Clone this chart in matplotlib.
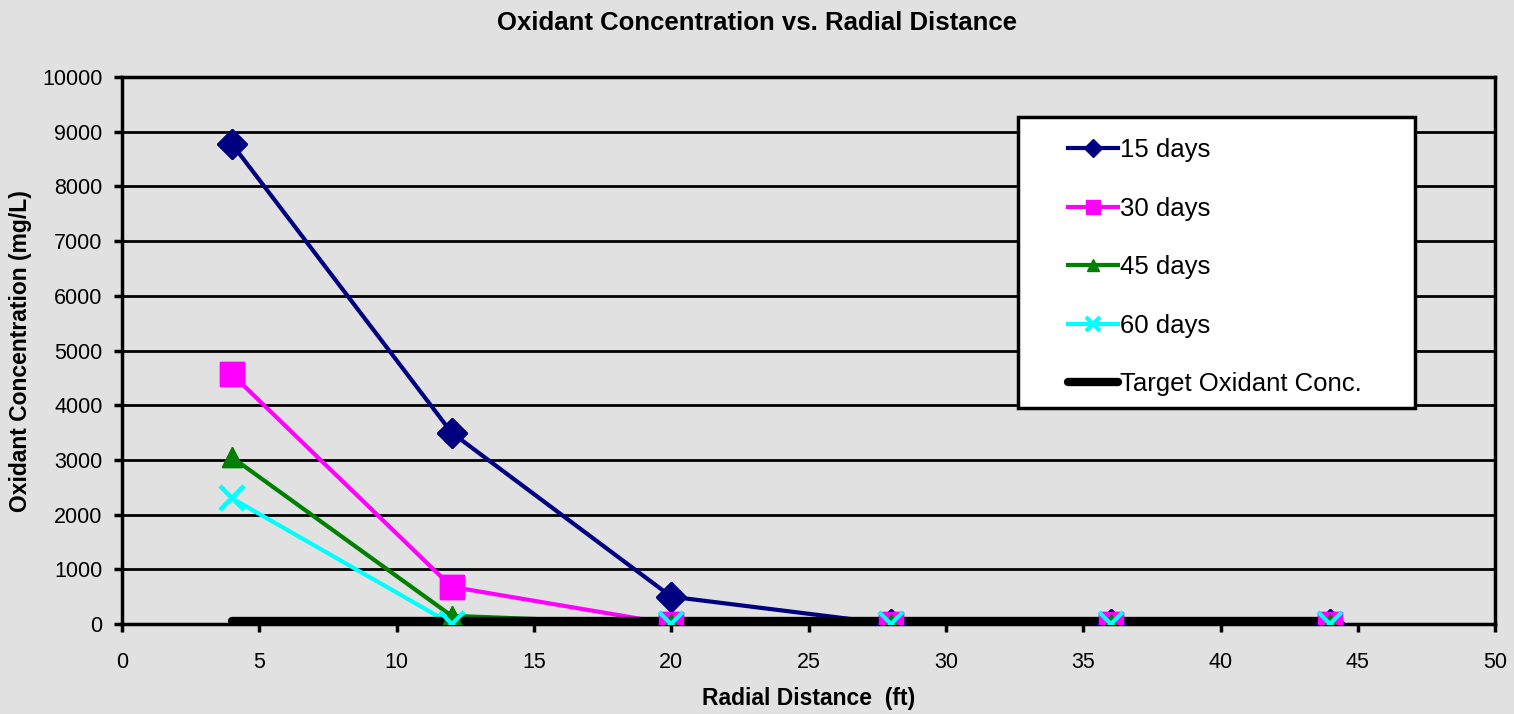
import matplotlib
matplotlib.use("Agg")
import matplotlib.pyplot as plt
from matplotlib.patches import Rectangle

plt.rcParams['font.family'] = ['Liberation Sans', 'DejaVu Sans']

radial_ft = [4, 12, 20, 28, 36, 44]
conc_15 = [8780, 3500, 500, 0, 0, 0]
conc_30 = [4570, 680, 0, 0, 0, 0]
conc_45 = [3050, 150, 0, 0, 0, 0]
conc_60 = [2300, 0, 0, 0, 0, 0]
target_x = [4, 44]
target_y = [50, 50]

series = [
    (conc_15, '15 days', '#000080', 'D', 15, 1),
    (conc_30, '30 days', '#ff00ff', 's', 17, 1),
    (conc_45, '45 days', '#008000', '^', 15, 1),
    (conc_60, '60 days', '#00ffff', 'x', 17, 3),
]

bg = '#e1e1e1'
fig = plt.figure(figsize=(15.14, 7.14), dpi=100, facecolor=bg)
ax = fig.add_axes([0.0806, 0.126, 0.907, 0.766], facecolor=bg)

for vals, lab, col, mk, ms, mew in series:
    ax.plot(radial_ft, vals, color=col, lw=3, marker=mk, ms=ms, mew=mew, label=lab, zorder=3)
ax.plot(target_x, target_y, color='black', lw=6, solid_capstyle='round', label='Target Oxidant Conc.', zorder=4)
# markers again on top of the target line
for vals, lab, col, mk, ms, mew in series:
    ax.plot(radial_ft, vals, ls='none', color=col, marker=mk, ms=ms, mew=mew, zorder=5)

ax.set_xlim(0, 50)
ax.set_ylim(0, 10000)
ax.set_xticks(range(0, 51, 5))
ax.set_yticks(range(0, 10001, 1000))
ax.yaxis.grid(True, color='black', lw=2)
ax.set_axisbelow(True)
for s in ax.spines.values():
    s.set_linewidth(2.5)
ax.tick_params(direction='out', length=6, width=2.5, labelsize=15.5, pad=8)
ax.tick_params(axis='x', pad=14)

ax.set_xlabel('Radial Distance  (ft)', fontsize=16.5, fontweight='bold', labelpad=10)
ax.set_ylabel('Oxidant Concentration (mg/L)', fontsize=16.5, fontweight='bold', labelpad=7)
fig.suptitle('Oxidant Concentration vs. Radial Distance', fontsize=18.5, fontweight='bold', y=0.985)

# legend box (white with black border), legend itself drawn without frame
ax.add_patch(Rectangle((1018 / 1514, 1 - 408 / 714), 397 / 1514, 291 / 714,
                       transform=fig.transFigure, facecolor='white',
                       edgecolor='black', lw=2.5, zorder=6, clip_on=False))
leg = ax.legend(loc='upper left', bbox_to_anchor=(0.689, 0.888), frameon=False,
                fontsize=18.5, markerscale=0.6, handlelength=1.95, handletextpad=0.05,
                labelspacing=1.34, borderpad=0, borderaxespad=0)
leg.set_zorder(7)

fig.savefig('out.png', dpi=100, facecolor=bg)
